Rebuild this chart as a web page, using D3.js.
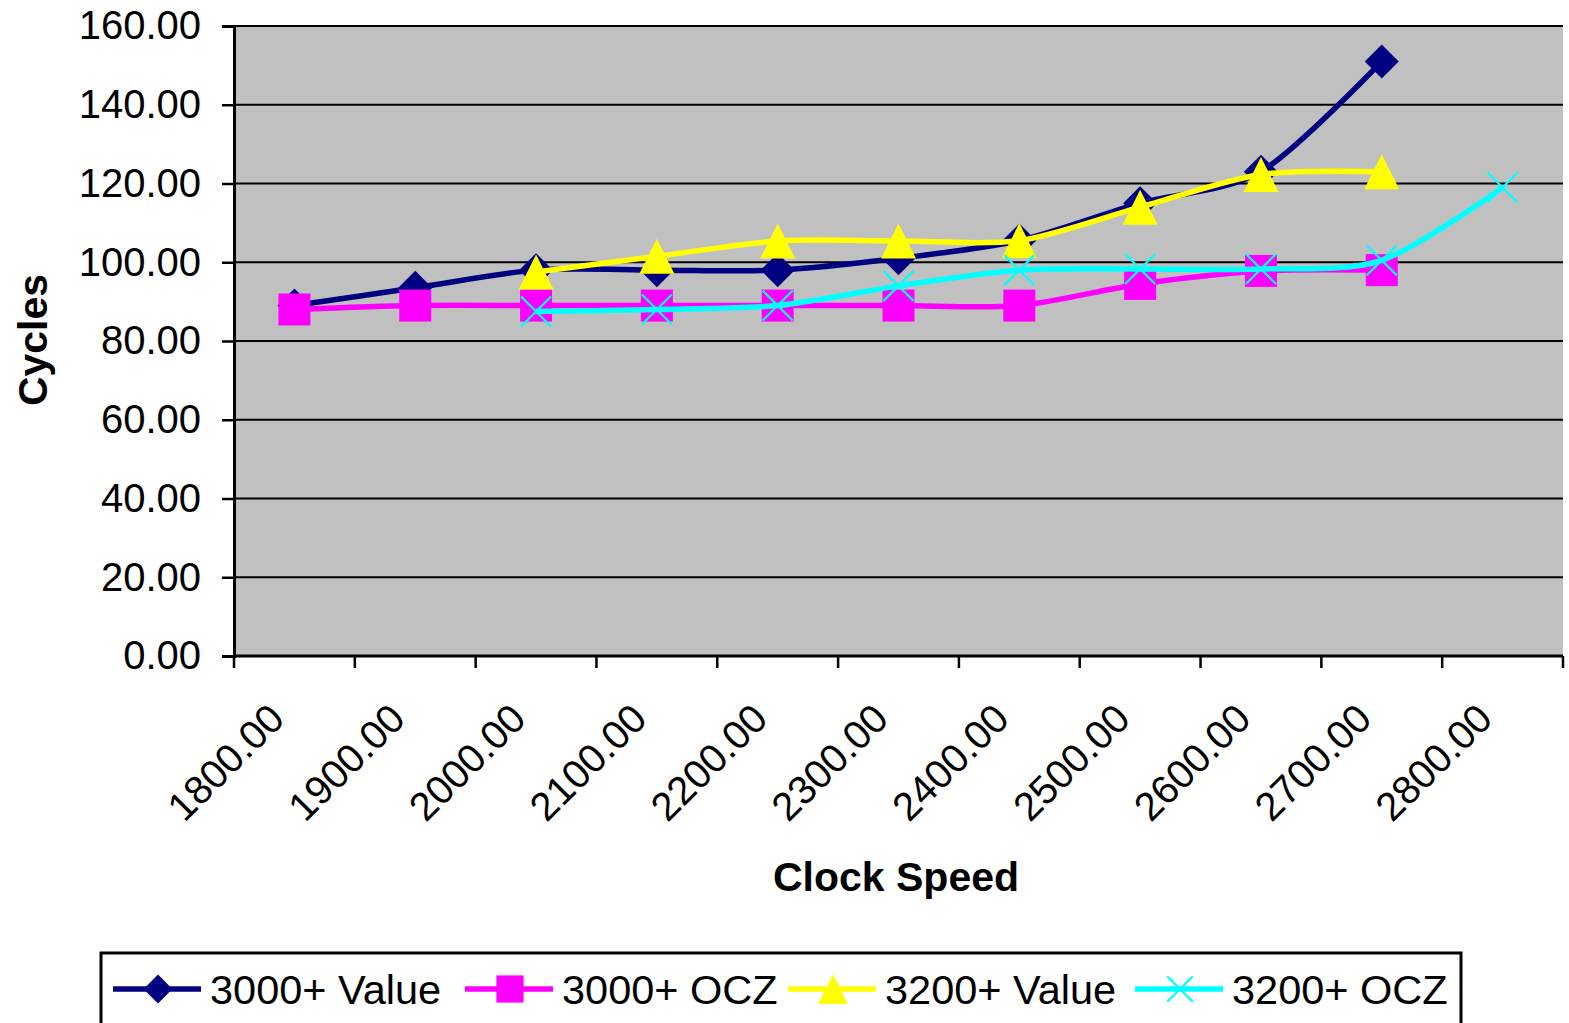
<!DOCTYPE html>
<html>
<head>
<meta charset="utf-8">
<script src="https://cdn.jsdelivr.net/npm/d3@7/dist/d3.min.js"></script>
<style>
  html, body { margin: 0; padding: 0; background: #fff; }
  svg { display: block; }
  text { font-family: "Liberation Sans", Arial, sans-serif; fill: #000; }
</style>
</head>
<body>
<svg id="chart" width="1569" height="1023"></svg>
<script>
// ---- data ----
const categories = ["1800.00","1900.00","2000.00","2100.00","2200.00","2300.00","2400.00","2500.00","2600.00","2700.00","2800.00"];
const seriesNames = ["3000+ Value","3000+ OCZ","3200+ Value","3200+ OCZ"];
const value3000 = [89, 93.5, 98, 98, 98, 101, 105.5, 115, 123, 151, null];
const ocz3000   = [88, 89, 89, 89, 89, 89, 89, 94.5, 97.8, 98, null];
const value3200 = [null, null, 97.5, 101.5, 105.4, 105.4, 105.5, 114, 122.3, 123, null];
const ocz3200   = [null, null, 87.5, 88, 89, 94, 98, 98.3, 98.3, 100.5, 119];
const yTicks = [0, 20, 40, 60, 80, 100, 120, 140, 160];
const seriesValues = [value3000, ocz3000, value3200, ocz3200];
const seriesColors = ["#000080", "#FF00FF", "#FFFF00", "#00FFFF"];
const seriesMarkers = ["diamond", "square", "triangle", "x"];

// ---- layout ----
const svg = d3.select("#chart");
const L = 234, R = 1563, T = 26, B = 656;
const x = d3.scaleBand().domain(categories).range([L, R]).padding(0);
const y = d3.scaleLinear().domain([0, 160]).range([B, T]);
const cx = c => x(c) + x.bandwidth() / 2;

// plot area
svg.append("rect").attr("x", L).attr("y", T).attr("width", R - L).attr("height", B - T).attr("fill", "#C0C0C0");

// gridlines
svg.append("g").selectAll("line").data(yTicks.filter(v => v > 0)).join("line")
  .attr("x1", L).attr("x2", R).attr("y1", d => y(d)).attr("y2", d => y(d))
  .attr("stroke", "#000").attr("stroke-width", 2.2);

// y axis
const yAxis = d3.axisLeft(y).tickValues(yTicks).tickFormat(d3.format(".2f")).tickSize(12).tickPadding(21);
const gy = svg.append("g").attr("transform", `translate(${L},0)`).call(yAxis);
gy.select(".domain").attr("stroke", "#000").attr("stroke-width", 3);
gy.selectAll(".tick line").attr("stroke", "#000").attr("stroke-width", 2.5);
gy.selectAll(".tick text").attr("font-size", 40).attr("font-family", "Liberation Sans, Arial, sans-serif").attr("fill", "#000");

// x axis line + ticks at band boundaries
svg.append("line").attr("x1", L).attr("x2", R).attr("y1", B).attr("y2", B).attr("stroke", "#000").attr("stroke-width", 3);
const bounds = categories.map(c => x(c)).concat([x.range()[1]]);
svg.append("g").selectAll("line").data(bounds).join("line")
  .attr("x1", d => d).attr("x2", d => d).attr("y1", B).attr("y2", B + 12)
  .attr("stroke", "#000").attr("stroke-width", 2.5);

// x tick labels rotated
svg.append("g").selectAll("text").data(categories).join("text")
  .attr("transform", d => `translate(${cx(d) - 8},${B + 65}) rotate(-45)`)
  .attr("text-anchor", "end").attr("font-size", 40).text(d => d);

// axis titles
svg.append("text").attr("x", 896).attr("y", 891).attr("text-anchor", "middle")
  .attr("font-size", 41).attr("font-weight", "bold").text("Clock Speed");
svg.append("text").attr("transform", "translate(47,340) rotate(-90)").attr("text-anchor", "middle")
  .attr("font-size", 41).attr("font-weight", "bold").text("Cycles");

// marker drawing
function marker(g, type, color, px, py, s) {
  s = s || 1;
  if (type === "diamond") {
    const h = 17 * s;
    g.append("path").attr("d", `M${px},${py - h}L${px + h},${py}L${px},${py + h}L${px - h},${py}Z`).attr("fill", color);
  } else if (type === "square") {
    const h = 16 * s;
    g.append("rect").attr("x", px - h).attr("y", py - h).attr("width", 2 * h).attr("height", 2 * h).attr("fill", color);
  } else if (type === "triangle") {
    const h = 17.5 * s;
    g.append("path").attr("d", `M${px},${py - h}L${px + h},${py + h}L${px - h},${py + h}Z`).attr("fill", color);
  } else {
    const h = 15 * s;
    g.append("path").attr("d", `M${px - h},${py - h}L${px + h},${py + h}M${px - h},${py + h}L${px + h},${py - h}`)
      .attr("stroke", color).attr("stroke-width", 2.2).attr("fill", "none");
  }
}

const line = d3.line()
  .defined(d => d.v != null)
  .x(d => cx(d.c)).y(d => y(d.v))
  .curve(d3.curveCardinal.tension(0.15));

seriesValues.forEach((vals, i) => {
  const g = svg.append("g");
  const pts = categories.map((c, j) => ({ c, v: vals[j] }));
  g.append("path").attr("d", line(pts)).attr("fill", "none")
    .attr("stroke", seriesColors[i]).attr("stroke-width", 5.5);
  pts.filter(p => p.v != null).forEach(p => marker(g, seriesMarkers[i], seriesColors[i], cx(p.c), y(p.v)));
});

// legend
const lg = svg.append("g");
lg.append("rect").attr("x", 101).attr("y", 953).attr("width", 1360).attr("height", 100)
  .attr("fill", "#fff").attr("stroke", "#000").attr("stroke-width", 3);
const legendX = [113, 465, 788, 1135];
seriesNames.forEach((n, i) => {
  const x0 = legendX[i], ly = 989;
  lg.append("line").attr("x1", x0).attr("x2", x0 + 88).attr("y1", ly).attr("y2", ly)
    .attr("stroke", seriesColors[i]).attr("stroke-width", 5.5);
  marker(lg, seriesMarkers[i], seriesColors[i], x0 + 45, ly, 0.85);
  lg.append("text").attr("x", x0 + 97).attr("y", 1004).attr("font-size", 41.5).text(n);
});
</script>
</body>
</html>
